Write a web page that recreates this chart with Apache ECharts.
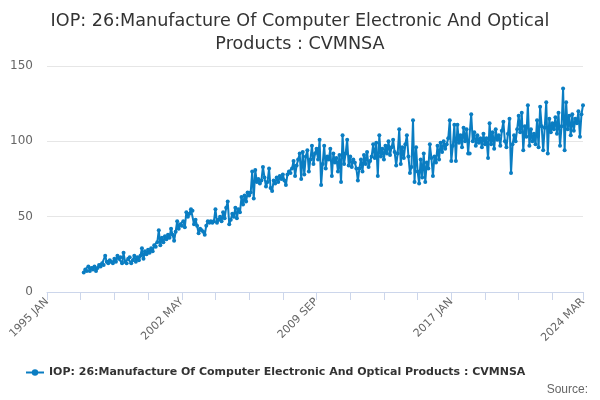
<html>
    <head>
        <meta charset="utf-8">
        <script src="https://cdn.jsdelivr.net/npm/echarts@6/dist/echarts.min.js"></script>
    </head>
    <body>
        <style>
            html, body, #main {
                width: 100%;
                height: 100%;
                margin: 0;
            }
        </style>
        <div id="main"></div>
        <script>

        var seriesName = 'IOP: 26:Manufacture Of Computer Electronic And Optical Products : CVMNSA';
        var monthNames = ['JAN', 'FEB', 'MAR', 'APR', 'MAY', 'JUN', 'JUL', 'AUG', 'SEP', 'OCT', 'NOV', 'DEC'];

        // axis runs 1995 JAN .. 2024 MAR, data starts 1997 JAN
        var firstYear = 1995;
        var dataStartYear = 1997;
        var yTicks = [0, 50, 100, 150];

        var v1997 = [13, 15, 14, 17, 14, 16, 15, 17, 14, 16, 18, 17];
        var v1998 = [19, 18, 24, 20, 19, 21, 20, 19, 22, 20, 24, 22];
        var v1999 = [23, 19, 26, 20, 19, 22, 23, 19, 21, 24, 20, 23];
        var v2000 = [21, 24, 29, 22, 27, 25, 28, 26, 29, 27, 31, 30];
        var v2001 = [33, 41, 31, 36, 33, 37, 35, 38, 36, 42, 38, 34];
        var v2002 = [40, 47, 42, 45, 44, 47, 43, 53, 50, 52, 55, 54];
        var v2003 = [45, 48, 44, 39, 42, 41, 40, 38, 44, 47, 46, 47];
        var v2004 = [46, 47, 55, 46, 48, 50, 47, 53, 49, 56, 60, 45];
        var v2005 = [48, 52, 50, 56, 49, 55, 53, 63, 58, 64, 60, 66];
        var v2006 = [64, 66, 80, 62, 81, 73, 75, 72, 74, 83, 76, 70];
        var v2007 = [73, 82, 69, 67, 74, 72, 76, 73, 77, 75, 78, 74];
        var v2008 = [71, 78, 80, 79, 82, 87, 77, 84, 88, 92, 75, 93];
        var v2009 = [78, 90, 94, 80, 88, 97, 85, 92, 95, 88, 101, 71];
        var v2010 = [85, 97, 82, 90, 88, 95, 77, 92, 86, 89, 80, 91];
        var v2011 = [73, 104, 85, 92, 101, 84, 90, 83, 88, 86, 82, 74];
        var v2012 = [82, 88, 80, 91, 85, 93, 83, 87, 90, 98, 89, 99];
        var v2013 = [77, 104, 90, 95, 88, 97, 92, 100, 91, 96, 101, 93];
        var v2014 = [84, 92, 108, 85, 96, 89, 98, 104, 90, 79, 83, 114];
        var v2015 = [73, 96, 80, 72, 88, 76, 92, 73, 86, 82, 98, 89];
        var v2016 = [77, 90, 86, 97, 88, 99, 93, 100, 95, 98, 102, 114];
        var v2017 = [87, 97, 111, 87, 111, 99, 104, 96, 109, 100, 108, 92];
        var v2018 = [92, 118, 100, 106, 97, 104, 99, 102, 96, 105, 98, 102];
        var v2019 = [89, 112, 98, 106, 95, 108, 101, 104, 97, 107, 113, 100];
        var v2020 = [96, 105, 115, 79, 98, 104, 100, 108, 117, 106, 119, 94];
        var v2021 = [110, 103, 124, 97, 108, 100, 105, 98, 114, 96, 123, 110];
        var v2022 = [94, 109, 126, 92, 115, 106, 112, 108, 116, 105, 119, 97];
        var v2023 = [110, 135, 94, 126, 108, 117, 104, 118, 107, 115, 112, 120];
        var v2024 = [103, 118, 124];

        var values = [].concat(v1997, v1998, v1999, v2000, v2001, v2002, v2003, v2004,
            v2005, v2006, v2007, v2008, v2009, v2010, v2011, v2012, v2013, v2014,
            v2015, v2016, v2017, v2018, v2019, v2020, v2021, v2022, v2023, v2024);

        var categories = [];
        var data = [];
        var lead = (dataStartYear - firstYear) * 12;
        var total = lead + values.length;
        for (var i = 0; i < total; i++) {
            categories.push((firstYear + Math.floor(i / 12)) + ' ' + monthNames[i % 12]);
            data.push(i < lead ? null : values[i - lead]);
        }
        var last = total - 1;

        var chart = echarts.init(document.getElementById('main'));

        chart.setOption({
            animation: false,
            textStyle: {
                fontFamily: 'DejaVu Sans'
            },
            title: {
                text: 'IOP: 26:Manufacture Of Computer Electronic And Optical\nProducts : CVMNSA',
                left: 'center',
                top: 5,
                textStyle: {
                    fontSize: 17.6,
                    fontWeight: 'normal',
                    color: '#333',
                    lineHeight: 23
                }
            },
            legend: {
                bottom: 17,
                left: 20,
                itemWidth: 18,
                itemHeight: 8,
                itemGap: 6,
                textStyle: {
                    fontSize: 11,
                    fontWeight: 'bold',
                    color: '#333'
                },
                data: [seriesName]
            },
            graphic: [{
                type: 'text',
                right: 12,
                bottom: 4,
                style: {
                    text: 'Source:',
                    fontSize: 12,
                    fill: '#666'
                }
            }],
            grid: {
                left: 47,
                right: 17,
                top: 66,
                bottom: 108
            },
            xAxis: {
                type: 'category',
                boundaryGap: false,
                data: categories,
                axisLine: {
                    lineStyle: { color: '#ccd6eb' }
                },
                axisTick: {
                    length: 8,
                    interval: function (idx) { return idx % 22 === 0 || idx === last; },
                    lineStyle: { color: '#ccd6eb' }
                },
                axisLabel: {
                    rotate: 45,
                    color: '#666',
                    fontSize: 11,
                    interval: function (idx) { return idx % 88 === 0 || idx === last; }
                }
            },
            yAxis: {
                type: 'value',
                min: yTicks[0],
                max: yTicks[yTicks.length - 1],
                interval: 50,
                axisLabel: {
                    color: '#666',
                    fontSize: 12,
                    margin: 14
                },
                splitLine: {
                    lineStyle: { color: '#e6e6e6' }
                }
            },
            series: [
                {
                    name: seriesName,
                    type: 'line',
                    data: data,
                    symbol: 'circle',
                    symbolSize: 4,
                    showSymbol: true,
                    showAllSymbol: true,
                    connectNulls: false,
                    itemStyle: { color: '#0a7dc2' },
                    lineStyle: { color: '#0a7dc2', width: 2 }
                }
            ]
        });

        </script>
    </body>
</html>
